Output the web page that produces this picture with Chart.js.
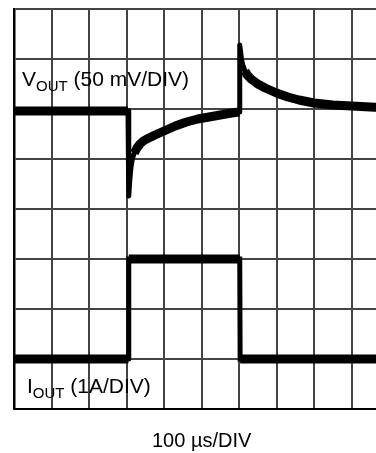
<!DOCTYPE html>
<html>
<head>
<meta charset="utf-8">
<script src="https://cdn.jsdelivr.net/npm/chart.js@4/dist/chart.umd.min.js"></script>
<style>
  html, body { margin: 0; padding: 0; background: #fff; overflow: hidden; }
  #wrap { position: relative; width: 392px; height: 453px; }
</style>
</head>
<body>
<div id="wrap"><canvas id="scope"></canvas></div>
<script>
// Load transient capture: 100 us/DIV, Vout 50 mV/DIV, Iout 1 A/DIV
const voutTimeUs = [0, 304,
  306, 309, 312, 316, 321, 328, 336, 345, 354, 365, 376, 400, 430, 460, 490, 520, 550, 580, 601,
  602, 604, 607, 611, 616, 622, 632, 650, 670, 700, 730, 760, 800, 850, 900, 950, 1000];
const voutMv = [0, 0,
  -85, -68, -56, -47, -42, -37, -33, -30, -28, -26, -24, -20, -15, -11, -8, -6, -4, -2, -1,
  66, 60, 51, 45, 40, 36, 32, 27, 23, 18, 14, 11, 8, 6, 5, 4, 3];

const ioutTimeUs = [0, 305, 306, 602, 603, 1000];
const ioutA = [0, 0, 2, 2, 0, 0];

// screen placement of each channel
const VOUT_MV_PER_DIV = 50;
const VOUT_OFFSET_DIV = 5.96;
const IOUT_A_PER_DIV = 1;
const IOUT_OFFSET_DIV = 1;

const voutPoints = voutTimeUs.map((t, i) => ({ x: t, y: VOUT_OFFSET_DIV + voutMv[i] / VOUT_MV_PER_DIV }));
const ioutPoints = ioutTimeUs.map((t, i) => ({ x: t, y: IOUT_OFFSET_DIV + ioutA[i] / IOUT_A_PER_DIV }));

const FONT = '"Liberation Sans", Arial, sans-serif';

// noisy traces look fat when flat, edges stay thin
const isEdge = (ctx) => Math.abs(ctx.p1.x - ctx.p0.x) < 2;

// channel labels with subscripts plus the timebase note
const scopeLabels = {
  id: "scopeLabels",
  afterDraw(chart) {
    const c = chart.ctx;
    c.save();
    c.fillStyle = "#000";
    c.textBaseline = "alphabetic";
    c.textAlign = "left";

    function label(x, y, main, sub, rest) {
      c.font = "21px " + FONT;
      c.fillText(main, x, y);
      x += c.measureText(main).width;
      c.font = "15px " + FONT;
      c.fillText(sub, x, y + 5);
      x += c.measureText(sub).width;
      c.font = "21px " + FONT;
      c.fillText(rest, x, y);
    }
    label(22, 86, "V", "OUT", " (50 mV/DIV)");
    label(27, 393, "I", "OUT", " (1A/DIV)");

    c.font = "20px " + FONT;
    c.fillText("100 \u00b5s/DIV", 152, 447);
    c.restore();
  },
};

const traceStyle = {
  borderColor: "#000",
  borderWidth: 9,
  pointRadius: 0,
  tension: 0,
  borderJoinStyle: "round",
  borderCapStyle: "butt",
  clip: { left: 0, top: false, right: false, bottom: false },
  segment: {
    borderWidth: (ctx) => (isEdge(ctx) ? 5 : 9),
    borderCapStyle: (ctx) => (isEdge(ctx) ? "square" : "butt"),
  },
};

new Chart(document.getElementById("scope"), {
  type: "line",
  data: {
    datasets: [
      { label: "VOUT", data: voutPoints, ...traceStyle },
      { label: "IOUT", data: ioutPoints, ...traceStyle },
    ],
  },
  options: {
    responsive: true,
    maintainAspectRatio: false,
    animation: false,
    layout: { padding: { left: 14, top: 9, right: 3, bottom: 44 } },
    scales: {
      x: {
        type: "linear",
        min: 0,
        max: 1000,
        ticks: { display: false, stepSize: 100 },
        grid: { color: "#444", lineWidth: 2, drawTicks: false },
        border: { color: "#000", width: 2 },
      },
      y: {
        min: 0,
        max: 8,
        ticks: { display: false, stepSize: 1 },
        grid: { color: "#444", lineWidth: 2, drawTicks: false },
        border: { color: "#000", width: 2.5 },
      },
    },
    plugins: {
      legend: { display: false },
      tooltip: { enabled: false },
    },
  },
  plugins: [scopeLabels],
});
</script>
</body>
</html>
